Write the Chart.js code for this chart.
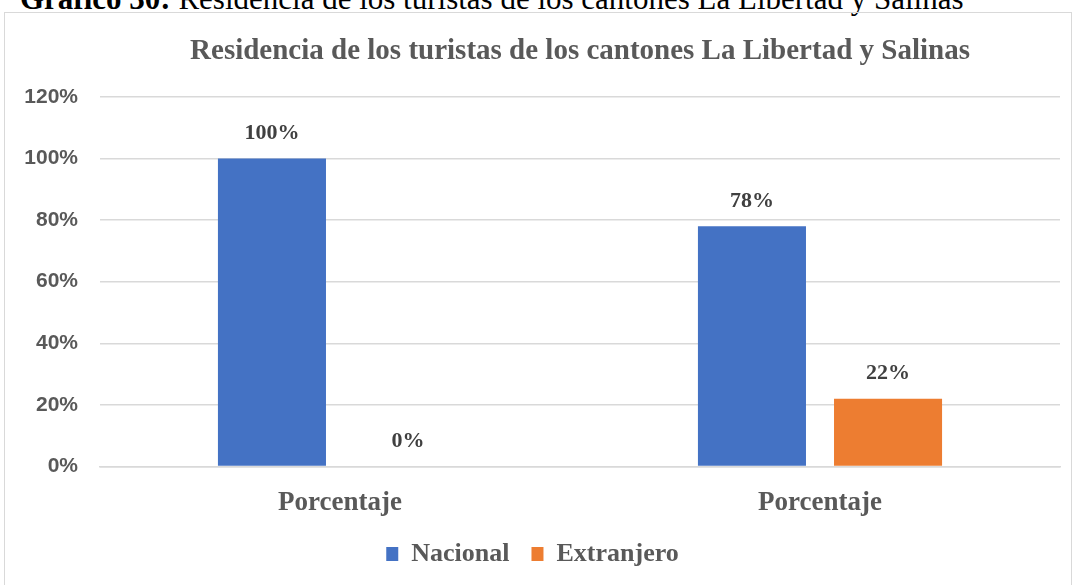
<!DOCTYPE html>
<html>
<head>
    <meta charset="UTF-8">
    <title>Residencia de los turistas</title>
    <script src="https://cdn.jsdelivr.net/npm/chart.js"></script>
    <style>
        html, body { margin: 0; padding: 0; overflow: hidden; background: #fff; }
        .caption {
            position: absolute; left: 20px; top: -17px; white-space: nowrap;
            font-family: "Liberation Serif", serif; font-size: 31px; line-height: 31px; color: #000;
        }
        .chart-box {
            position: absolute; left: 4px; top: 12px; width: 1066px; height: 574px;
            border: 1px solid #d9d9d9;
        }
    </style>
</head>
<body>
    <div class="caption"><b>Gráfico 30:</b> Residencia de los turistas de los cantones La Libertad y Salinas</div>
    <div class="chart-box">
        <canvas id="residenciaChart"></canvas>
    </div>
    <script>
        const categorias = ['Porcentaje', 'Porcentaje'];
        const nacional = [100, 78];
        const extranjero = [0, 22];
        const ticksY = [0, 20, 40, 60, 80, 100, 120];

        const serif = '"Liberation Serif", "Times New Roman", serif';

        // etiquetas de valor encima de cada barra
        const etiquetas = {
            id: 'etiquetas',
            afterDatasetsDraw(chart) {
                const ctx = chart.ctx;
                ctx.save();
                ctx.font = 'bold 22px ' + serif;
                ctx.fillStyle = '#404040';
                ctx.textAlign = 'center';
                ctx.textBaseline = 'middle';
                chart.data.datasets.forEach(function (ds, i) {
                    chart.getDatasetMeta(i).data.forEach(function (bar, j) {
                        ctx.fillText(ds.data[j] + '%', bar.x, bar.y - 25);
                    });
                });
                ctx.restore();
            }
        };

        const ctx = document.getElementById('residenciaChart').getContext('2d');
        const residenciaChart = new Chart(ctx, {
            type: 'bar',
            data: {
                labels: categorias,
                datasets: [
                    { label: 'Nacional', data: nacional, backgroundColor: '#4472c4' },
                    { label: 'Extranjero', data: extranjero, backgroundColor: '#ed7d31' }
                ]
            },
            options: {
                responsive: true,
                maintainAspectRatio: false,
                animation: false,
                categoryPercentage: 0.567,
                barPercentage: 0.794,
                layout: { padding: { left: 0, right: 11, bottom: 10 } },
                plugins: {
                    title: {
                        display: true,
                        fullSize: false,
                        text: 'Residencia de los turistas de los cantones La Libertad y Salinas',
                        color: '#595959',
                        font: { family: serif, size: 29, weight: 'bold' },
                        padding: { top: 21, bottom: 28 }
                    },
                    legend: {
                        position: 'bottom',
                        labels: {
                            color: '#595959',
                            font: { family: serif, size: 26, weight: 'bold' },
                            boxWidth: 12,
                            boxHeight: 14,
                            padding: 22
                        }
                    },
                    tooltip: { enabled: false }
                },
                scales: {
                    x: {
                        afterFit: function (scale) { scale.height = scale.height - 20; },
                        grid: { display: false, drawTicks: false },
                        border: { color: '#d9d9d9', width: 1.5 },
                        ticks: {
                            color: '#595959',
                            padding: 20,
                            font: { family: serif, size: 27, weight: 'bold' }
                        }
                    },
                    y: {
                        min: ticksY[0],
                        max: ticksY[ticksY.length - 1],
                        afterFit: function (scale) { scale.width = 95; },
                        afterBuildTicks: function (scale) {
                            scale.ticks = ticksY.map(function (v) { return { value: v }; });
                        },
                        grid: { color: '#d9d9d9', lineWidth: 1.5, drawTicks: false },
                        border: { display: false },
                        ticks: {
                            color: '#595959',
                            padding: 22,
                            font: { family: '"Liberation Sans", Arial, sans-serif', size: 21, weight: 'bold' },
                            callback: function (v) { return v + '%'; }
                        }
                    }
                }
            },
            plugins: [etiquetas]
        });
    </script>
</body>
</html>
